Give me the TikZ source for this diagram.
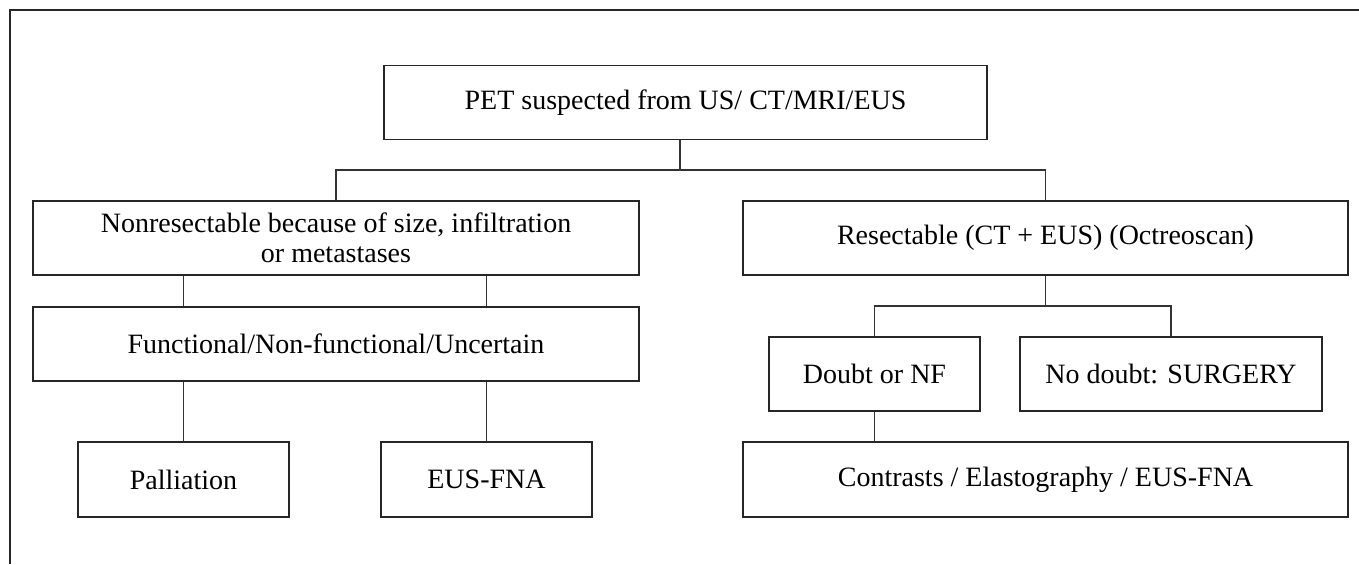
\documentclass[tikz,border=0pt]{standalone}
\usepackage{fontspec}
\setmainfont{Liberation Serif}

\tikzset{
  box/.style={draw=black!85, line width=0.6pt, align=center, inner sep=0pt,
    minimum height=37pt, font=\fontsize{14}{15}\selectfont},
  link/.style={draw=black!80, line width=0.6pt},
}

\begin{document}
\begin{tikzpicture}[x=0.5pt, y=-0.5pt]
  \useasboundingbox (0,0) rectangle (1359,564);

  % frame (top and left only)
  \draw[black!85, line width=1pt] (10,564) -- (10,10) -- (1359,10);

  % boxes
  \node[box, minimum width=301.5pt] (pet) at (685.5,102.5) {PET suspected from US/ CT/MRI/EUS};

  \node[box, minimum width=303pt] (nonres) at (336,238)
    {Nonresectable because of size, infiltration\\or metastases};
  \node[box, minimum width=302.5pt] (resect) at (1045.5,238) {Resectable (CT + EUS) (Octreoscan)};

  \node[box, minimum width=303pt] (func) at (336,344) {Functional/Non-functional/Uncertain};

  \node[box, minimum width=105.5pt] (doubt) at (874.5,374) {Doubt or NF};
  \node[box, minimum width=151pt] (nodoubt) at (1171,374) {No doubt: SURGERY};

  \node[box, minimum width=105.5pt, minimum height=37.5pt] (pall) at (183.5,479.5) {Palliation};
  \node[box, minimum width=105.5pt, minimum height=37.5pt] (eusfna) at (486.5,479.5) {EUS-FNA};
  \node[box, minimum width=302.5pt, minimum height=37.5pt] (contr) at (1045.5,479.5)
    {Contrasts / Elastography / EUS-FNA};

  % split points
  \coordinate (splitA) at (680,170);
  \coordinate (splitB) at (1045.5,306);

  % connectors
  \draw[link] (pet.south -| splitA) -- (splitA);
  \draw[link] (nonres.north) |- (splitA) -| (resect.north);

  \draw[link] (pall.north |- nonres.south) -- (pall.north |- func.north);
  \draw[link] (eusfna.north |- nonres.south) -- (eusfna.north |- func.north);
  \draw[link] (pall.north |- func.south) -- (pall.north);
  \draw[link] (eusfna.north |- func.south) -- (eusfna.north);

  \draw[link] (resect.south) -- (splitB);
  \draw[link] (doubt.north) |- (splitB) -| (nodoubt.north);
  \draw[link] (doubt.south) -- (doubt.south |- contr.north);
\end{tikzpicture}
\end{document}
